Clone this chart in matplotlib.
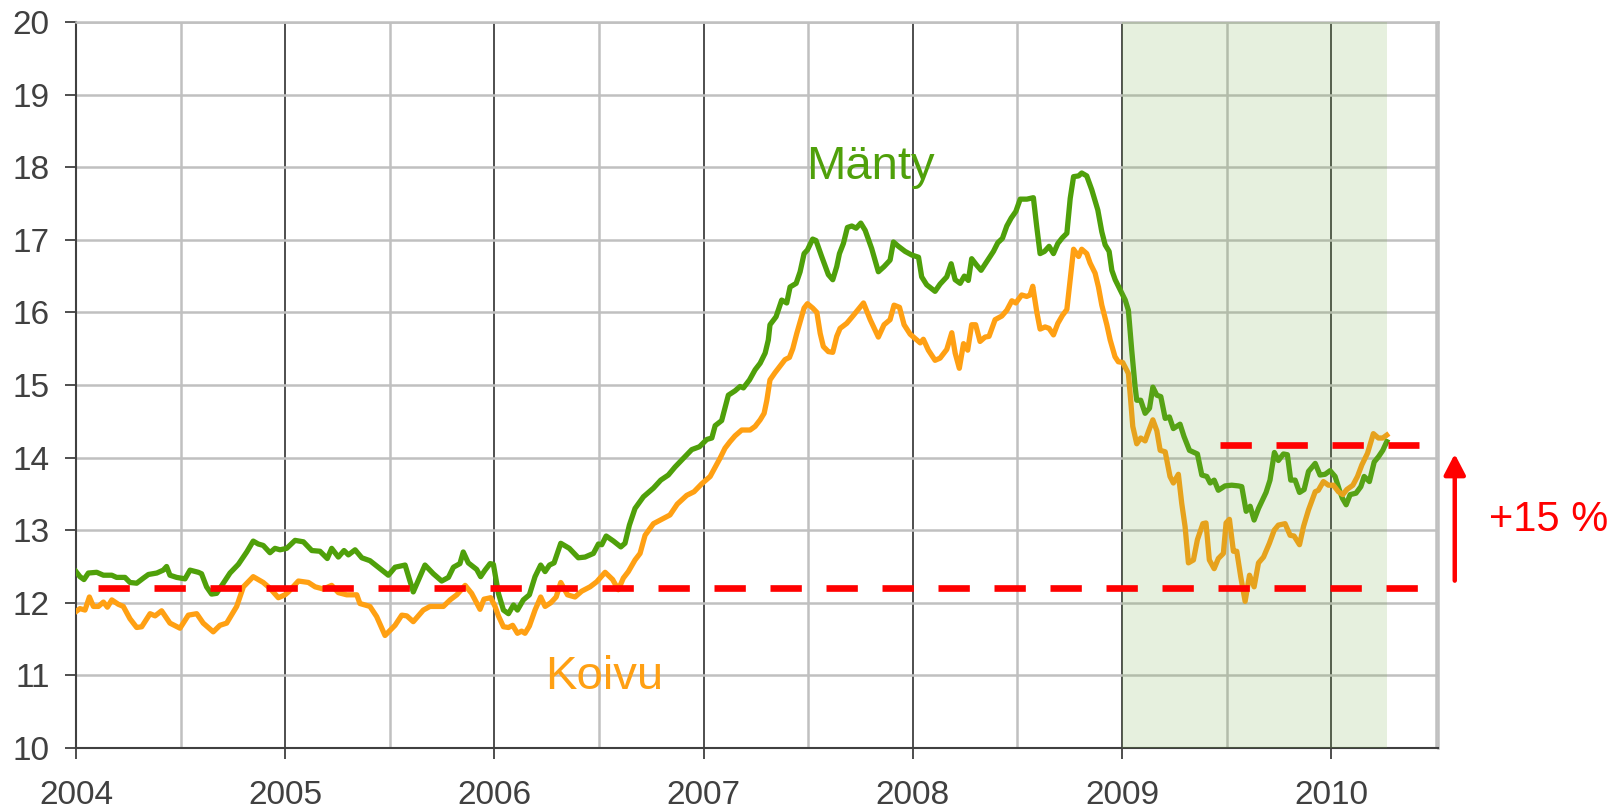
import matplotlib
matplotlib.use('Agg')
import matplotlib.pyplot as plt

plt.rcParams['font.family'] = ['Liberation Sans', 'DejaVu Sans']

# ---------------- data ----------------
manty_t = [2004.000, 2004.019, 2004.038, 2004.059, 2004.099, 2004.131, 2004.171, 2004.194, 2004.234, 2004.258,
           2004.290, 2004.322, 2004.346, 2004.386, 2004.417, 2004.433, 2004.449, 2004.481, 2004.521, 2004.545,
           2004.585, 2004.600, 2004.624, 2004.648, 2004.672, 2004.704, 2004.736, 2004.776, 2004.816, 2004.847,
           2004.871, 2004.895, 2004.927, 2004.951,
           2004.975, 2005.007, 2005.047, 2005.087, 2005.127, 2005.166, 2005.201, 2005.222, 2005.254, 2005.281,
           2005.302, 2005.334, 2005.366, 2005.405, 2005.453, 2005.493, 2005.525, 2005.573, 2005.612, 2005.668,
           2005.708, 2005.748, 2005.780, 2005.804, 2005.835, 2005.851, 2005.875, 2005.915, 2005.934, 2005.955,
           2005.979, 2005.995,
           2006.019, 2006.043, 2006.067, 2006.091, 2006.110, 2006.138, 2006.167, 2006.194, 2006.221, 2006.242,
           2006.263, 2006.285, 2006.317, 2006.358, 2006.401, 2006.433, 2006.473, 2006.497, 2006.513, 2006.534,
           2006.569, 2006.604, 2006.624, 2006.645, 2006.672, 2006.712, 2006.760, 2006.795, 2006.831, 2006.863,
           2006.903, 2006.943, 2006.980,
           2007.015, 2007.039, 2007.055, 2007.086, 2007.118, 2007.150, 2007.174, 2007.190, 2007.219, 2007.246,
           2007.270, 2007.294, 2007.309, 2007.317, 2007.346, 2007.373, 2007.397, 2007.413, 2007.442, 2007.461,
           2007.480, 2007.496, 2007.521, 2007.537, 2007.564, 2007.596, 2007.617, 2007.636, 2007.649, 2007.668,
           2007.687, 2007.708, 2007.729, 2007.751, 2007.772, 2007.803, 2007.835, 2007.862, 2007.891, 2007.907,
           2007.931, 2007.963,
           2007.995, 2008.027, 2008.042, 2008.066, 2008.106, 2008.130, 2008.162, 2008.183, 2008.202, 2008.226,
           2008.246, 2008.265, 2008.281, 2008.305, 2008.326, 2008.353, 2008.385, 2008.406, 2008.428, 2008.449,
           2008.470, 2008.492, 2008.513, 2008.545, 2008.576, 2008.592, 2008.608, 2008.629, 2008.651, 2008.672,
           2008.693, 2008.715, 2008.736, 2008.752, 2008.768, 2008.792, 2008.807, 2008.831, 2008.855, 2008.884,
           2008.903, 2008.919, 2008.938, 2008.951, 2008.967, 2008.991,
           2009.015, 2009.030, 2009.046, 2009.062, 2009.070, 2009.089, 2009.110, 2009.131, 2009.147, 2009.166,
           2009.185, 2009.206, 2009.226, 2009.245, 2009.277, 2009.296, 2009.322, 2009.360, 2009.381, 2009.405,
           2009.421, 2009.440, 2009.460, 2009.492, 2009.524, 2009.556, 2009.572, 2009.593, 2009.612, 2009.631,
           2009.652, 2009.688, 2009.707, 2009.728, 2009.747, 2009.771, 2009.790, 2009.806, 2009.827, 2009.848,
           2009.870, 2009.891, 2009.923, 2009.946, 2009.970, 2009.994, 2010.018, 2010.039, 2010.053, 2010.071,
           2010.090, 2010.118, 2010.141, 2010.157, 2010.182, 2010.205, 2010.225, 2010.246, 2010.265]
manty_v = [12.43, 12.36, 12.32, 12.41, 12.42, 12.38, 12.38, 12.35, 12.35, 12.28,
           12.27, 12.34, 12.39, 12.41, 12.45, 12.50, 12.38, 12.35, 12.33, 12.45,
           12.42, 12.40, 12.22, 12.12, 12.13, 12.27, 12.41, 12.53, 12.70, 12.85,
           12.81, 12.79, 12.69, 12.75,
           12.73, 12.75, 12.86, 12.84, 12.72, 12.71, 12.61, 12.75, 12.63, 12.72,
           12.66, 12.73, 12.62, 12.58, 12.47, 12.38, 12.49, 12.52, 12.15, 12.52,
           12.40, 12.30, 12.35, 12.49, 12.54, 12.70, 12.55, 12.46, 12.36, 12.45,
           12.54, 12.53,
           12.13, 11.90, 11.85, 11.97, 11.90, 12.04, 12.11, 12.36, 12.52, 12.43,
           12.52, 12.55, 12.82, 12.75, 12.62, 12.63, 12.68, 12.81, 12.80, 12.92,
           12.85, 12.77, 12.82, 13.07, 13.30, 13.46, 13.58, 13.69, 13.76, 13.87,
           13.99, 14.11, 14.15,
           14.25, 14.27, 14.44, 14.51, 14.86, 14.92, 14.98, 14.96, 15.07, 15.21,
           15.30, 15.44, 15.62, 15.83, 15.94, 16.17, 16.13, 16.35, 16.40, 16.56,
           16.81, 16.86, 17.01, 16.99, 16.77, 16.52, 16.45, 16.63, 16.81, 16.95,
           17.17, 17.19, 17.16, 17.23, 17.13, 16.88, 16.56, 16.63, 16.72, 16.97,
           16.91, 16.84,
           16.79, 16.76, 16.49, 16.38, 16.29, 16.39, 16.49, 16.67, 16.45, 16.40,
           16.50, 16.44, 16.74, 16.65, 16.58, 16.70, 16.84, 16.96, 17.02, 17.19,
           17.30, 17.39, 17.56, 17.56, 17.58, 17.18, 16.81, 16.84, 16.91, 16.81,
           16.95, 17.03, 17.09, 17.57, 17.87, 17.88, 17.92, 17.88, 17.69, 17.41,
           17.11, 16.93, 16.84, 16.58, 16.45, 16.31,
           16.17, 16.03, 15.48, 14.98, 14.79, 14.79, 14.61, 14.68, 14.97, 14.86,
           14.84, 14.54, 14.56, 14.40, 14.46, 14.29, 14.10, 14.05, 13.76, 13.74,
           13.65, 13.69, 13.55, 13.61, 13.62, 13.61, 13.60, 13.26, 13.33, 13.14,
           13.30, 13.52, 13.69, 14.07, 13.96, 14.05, 14.04, 13.69, 13.69, 13.52,
           13.56, 13.81, 13.92, 13.76, 13.77, 13.82, 13.74, 13.55, 13.44, 13.35,
           13.49, 13.51, 13.60, 13.74, 13.67, 13.94, 14.01, 14.10, 14.22]

koivu_t = [2004.000, 2004.019, 2004.043, 2004.064, 2004.083, 2004.107, 2004.131, 2004.150, 2004.171, 2004.202,
           2004.226, 2004.258, 2004.290, 2004.314, 2004.354, 2004.378, 2004.409, 2004.449, 2004.497, 2004.537,
           2004.577, 2004.608, 2004.656, 2004.688, 2004.720, 2004.768, 2004.800, 2004.847, 2004.895, 2004.927,
           2004.967, 2004.999,
           2005.015, 2005.063, 2005.111, 2005.143, 2005.182, 2005.222, 2005.254, 2005.294, 2005.342, 2005.357,
           2005.405, 2005.437, 2005.477, 2005.525, 2005.557, 2005.581, 2005.612, 2005.660, 2005.692, 2005.756,
           2005.788, 2005.820, 2005.860, 2005.891, 2005.931, 2005.950, 2005.982, 2006.003,
           2006.019, 2006.043, 2006.067, 2006.087, 2006.110, 2006.130, 2006.146, 2006.167, 2006.194, 2006.221,
           2006.242, 2006.269, 2006.295, 2006.317, 2006.349, 2006.385, 2006.417, 2006.457, 2006.489, 2006.529,
           2006.565, 2006.592, 2006.616, 2006.640, 2006.672, 2006.696, 2006.720, 2006.760, 2006.800, 2006.839,
           2006.874, 2006.919, 2006.954, 2006.991, 2007.031,
           2007.078, 2007.102, 2007.126, 2007.150, 2007.182, 2007.222, 2007.246, 2007.270, 2007.289, 2007.302,
           2007.317, 2007.341, 2007.365, 2007.389, 2007.410, 2007.426, 2007.445, 2007.464, 2007.480, 2007.496,
           2007.521, 2007.541, 2007.557, 2007.572, 2007.596, 2007.617, 2007.636, 2007.652, 2007.684, 2007.716,
           2007.744, 2007.764, 2007.796, 2007.835, 2007.862, 2007.891, 2007.910, 2007.936, 2007.958,
           2007.987, 2008.011, 2008.035, 2008.050, 2008.074, 2008.106, 2008.130, 2008.162, 2008.186, 2008.202,
           2008.222, 2008.242, 2008.262, 2008.281, 2008.300, 2008.321, 2008.345, 2008.364, 2008.393, 2008.425,
           2008.449, 2008.473, 2008.492, 2008.520, 2008.544, 2008.560, 2008.573, 2008.592, 2008.608, 2008.632,
           2008.651, 2008.672, 2008.693, 2008.715, 2008.736, 2008.752, 2008.768, 2008.792, 2008.807, 2008.831,
           2008.847, 2008.871, 2008.887, 2008.903, 2008.927,
           2008.943, 2008.966, 2008.982, 2009.003, 2009.030, 2009.041, 2009.051, 2009.070, 2009.089, 2009.110,
           2009.126, 2009.147, 2009.166, 2009.182, 2009.206, 2009.229, 2009.245, 2009.269, 2009.285, 2009.301,
           2009.317, 2009.341, 2009.360, 2009.386, 2009.401, 2009.417, 2009.440, 2009.460, 2009.484, 2009.497,
           2009.513, 2009.532, 2009.548, 2009.567, 2009.588, 2009.609, 2009.631, 2009.652, 2009.676, 2009.704,
           2009.727, 2009.747, 2009.779, 2009.803, 2009.822, 2009.848, 2009.867, 2009.891, 2009.923, 2009.938,
           2009.962, 2009.986, 2010.010, 2010.034, 2010.055, 2010.074, 2010.103, 2010.125, 2010.146, 2010.173,
           2010.201, 2010.225, 2010.246, 2010.265]
koivu_v = [11.88, 11.92, 11.90, 12.08, 11.95, 11.95, 12.01, 11.94, 12.04, 11.98,
           11.95, 11.78, 11.66, 11.67, 11.85, 11.82, 11.89, 11.72, 11.65, 11.83,
           11.85, 11.72, 11.60, 11.69, 11.72, 11.95, 12.22, 12.36, 12.28, 12.20,
           12.07, 12.11,
           12.15, 12.30, 12.28, 12.22, 12.19, 12.24, 12.14, 12.11, 12.11, 11.99,
           11.95, 11.81, 11.55, 11.69, 11.83, 11.82, 11.74, 11.90, 11.95, 11.95,
           12.04, 12.11, 12.24, 12.13, 11.91, 12.05, 12.07, 11.95,
           11.82, 11.67, 11.66, 11.69, 11.58, 11.61, 11.58, 11.68, 11.90, 12.08,
           11.95, 12.00, 12.08, 12.28, 12.11, 12.08, 12.16, 12.22, 12.29, 12.42,
           12.32, 12.18, 12.34, 12.43, 12.59, 12.68, 12.93, 13.09, 13.15, 13.21,
           13.36, 13.48, 13.53, 13.64, 13.74,
           13.99, 14.13, 14.22, 14.30, 14.38, 14.38, 14.43, 14.52, 14.61, 14.79,
           15.07, 15.17, 15.26, 15.35, 15.38, 15.50, 15.71, 15.90, 16.06, 16.12,
           16.06, 16.00, 15.71, 15.53, 15.46, 15.45, 15.67, 15.78, 15.85, 15.96,
           16.06, 16.13, 15.90, 15.66, 15.83, 15.90, 16.10, 16.07, 15.83,
           15.70, 15.64, 15.58, 15.63, 15.48, 15.34, 15.37, 15.49, 15.72, 15.44,
           15.23, 15.57, 15.48, 15.83, 15.83, 15.60, 15.66, 15.67, 15.90, 15.95,
           16.03, 16.16, 16.13, 16.24, 16.22, 16.24, 16.36, 16.01, 15.77, 15.80,
           15.78, 15.69, 15.85, 15.96, 16.04, 16.45, 16.87, 16.77, 16.87, 16.81,
           16.68, 16.54, 16.35, 16.10, 15.83,
           15.62, 15.39, 15.32, 15.31, 15.16, 14.79, 14.43, 14.19, 14.27, 14.23,
           14.36, 14.52, 14.37, 14.10, 14.08, 13.74, 13.65, 13.77, 13.37, 13.05,
           12.55, 12.59, 12.87, 13.09, 13.10, 12.59, 12.47, 12.61, 12.68, 13.10,
           13.15, 12.71, 12.71, 12.36, 12.02, 12.38, 12.22, 12.55, 12.63, 12.82,
           13.00, 13.07, 13.09, 12.93, 12.92, 12.80, 13.05, 13.28, 13.53, 13.55,
           13.67, 13.62, 13.62, 13.53, 13.49, 13.56, 13.62, 13.74, 13.90, 14.06,
           14.33, 14.27, 14.27, 14.31]

year_ticks = [2004, 2005, 2006, 2007, 2008, 2009, 2010]
half_year_ticks = [2004.5, 2005.5, 2006.5, 2007.5, 2008.5, 2009.5, 2010.5]
y_ticks = [10, 11, 12, 13, 14, 15, 16, 17, 18, 19, 20]
series_names = ['Mänty', 'Koivu']
base_level = 12.2
new_level = 14.18
change_label = '+15 %'
forecast_span = (2009.0, 2010.265)

# ---------------- style ----------------
GREEN = '#4fa00a'
ORANGE = '#ffa013'
RED = '#ff0000'
DARK = '#404040'
LIGHT = '#c0c0c0'

fig = plt.figure(figsize=(16.22, 8.11), dpi=100)
ax = fig.add_axes([0.04686, 0.07768, 0.83971, 0.89519])
ax.set_xlim(2004, 2010.51)
ax.set_ylim(10, 20)

ax.set_axisbelow(True)
ax.set_xticks(year_ticks)
ax.set_xticklabels([str(y) for y in year_ticks])
ax.set_xticks(half_year_ticks, minor=True)
ax.set_yticks(y_ticks)
ax.grid(axis='y', color=LIGHT, lw=1.8)
ax.grid(axis='x', which='major', color=DARK, lw=1.3)
ax.grid(axis='x', which='minor', color=LIGHT, lw=1.8)

ax.tick_params(axis='both', which='major', direction='out', length=8, width=1.3,
               color=DARK, labelsize=24, labelcolor=DARK)
ax.tick_params(axis='x', which='major', pad=15)
ax.tick_params(axis='y', which='major', pad=11)
ax.tick_params(axis='x', which='minor', length=0)

for s in ['left', 'bottom']:
    ax.spines[s].set_color(DARK)
    ax.spines[s].set_linewidth(1.5)
for s in ['top', 'right']:
    ax.spines[s].set_color(LIGHT)
    ax.spines[s].set_linewidth(1.8)

ax.plot(manty_t, manty_v, color=GREEN, lw=3.8, zorder=3, solid_joinstyle='round')
ax.plot(koivu_t, koivu_v, color=ORANGE, lw=3.8, zorder=3, solid_joinstyle='round')

ax.axvspan(forecast_span[0], forecast_span[1], facecolor='#78af4b', alpha=0.18,
           lw=0, zorder=4)

ax.plot([2004.107, 2010.42], [base_level, base_level], color=RED, lw=4.8,
        dashes=(4.7, 3.7), dash_capstyle='butt', zorder=5, clip_on=False)
ax.plot([2009.468, 2010.42], [new_level, new_level], color=RED, lw=4.8,
        dashes=(4.7, 3.7), dash_capstyle='butt', zorder=5, clip_on=False)

ax.annotate('', xy=(2010.59, 14.05), xytext=(2010.59, 12.305),
            arrowprops=dict(arrowstyle='-|>,head_length=1.25,head_width=0.65',
                            color=RED, lw=3.2, mutation_scale=10,
                            shrinkA=0, shrinkB=0),
            annotation_clip=False)
ax.text(2011.04, 13.14, change_label, color=RED, fontsize=30,
        ha='center', va='center', clip_on=False)

ax.text(2007.49, 17.84, series_names[0], color=GREEN, fontsize=34,
        ha='left', va='baseline')
ax.text(2006.24, 10.81, series_names[1], color=ORANGE, fontsize=34,
        ha='left', va='baseline')

fig.savefig('out.png', dpi=100)
